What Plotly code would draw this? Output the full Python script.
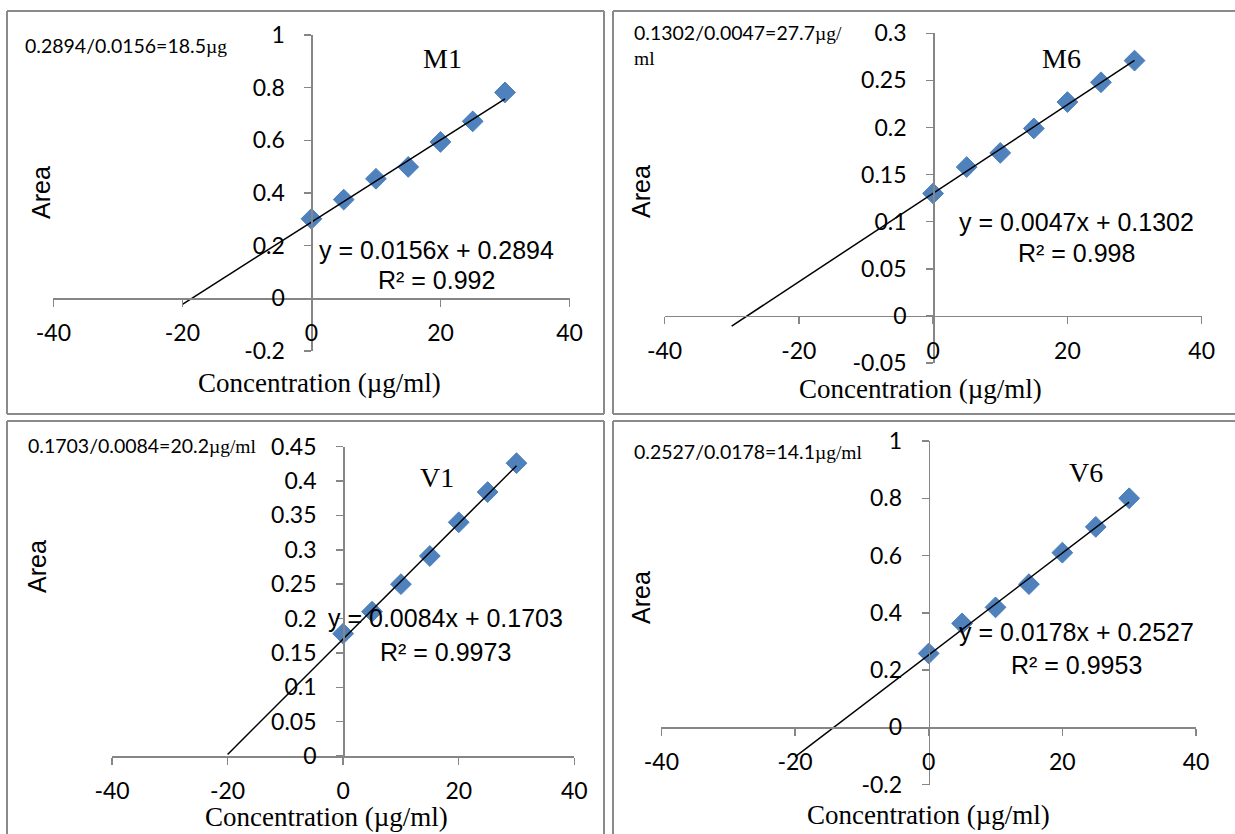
import plotly.graph_objects as go

# ---- data -------------------------------------------------------------
conc = [0, 5, 10, 15, 20, 25, 30]

m1_area = [0.302, 0.375, 0.454, 0.499, 0.594, 0.672, 0.782]
m6_area = [0.130, 0.158, 0.173, 0.199, 0.227, 0.248, 0.271]
v1_area = [0.178, 0.210, 0.250, 0.291, 0.340, 0.384, 0.426]
v6_area = [0.258, 0.363, 0.419, 0.500, 0.610, 0.700, 0.800]

sample_names = ["M1", "M6", "V1", "V6"]
slopes = [0.0156, 0.0047, 0.0084, 0.0178]
intercepts = [0.2894, 0.1302, 0.1703, 0.2527]
r_squared = ["0.992", "0.998", "0.9973", "0.9953"]
trend_start = [-20, -30, -20, -20]
notes = [
    "0.2894/0.0156=18.5",
    "0.1302/0.0047=27.7",
    "0.1703/0.0084=20.2",
    "0.2527/0.0178=14.1",
]
note_units = ["µg", "µg/<br>ml", "µg/ml", "µg/ml"]

x_ticks = [-40, -20, 0, 20, 40]
x_tick_text = ["-40", "-20", "0", "20", "40"]

y_ticks = [
    [-0.2, 0, 0.2, 0.4, 0.6, 0.8, 1],
    [-0.05, 0, 0.05, 0.1, 0.15, 0.2, 0.25, 0.3],
    [0, 0.05, 0.1, 0.15, 0.2, 0.25, 0.3, 0.35, 0.4, 0.45],
    [-0.2, 0, 0.2, 0.4, 0.6, 0.8, 1],
]
y_tick_text = [
    ["-0.2", "0", "0.2", "0.4", "0.6", "0.8", "1"],
    ["-0.05", "0", "0.05", "0.1", "0.15", "0.2", "0.25", "0.3"],
    ["0", "0.05", "0.1", "0.15", "0.2", "0.25", "0.3", "0.35", "0.4", "0.45"],
    ["-0.2", "0", "0.2", "0.4", "0.6", "0.8", "1"],
]
areas = [m1_area, m6_area, v1_area, v6_area]

# ---- layout geometry (pixels) ------------------------------------------
W, H = 1235, 834
# plot boxes: (x_left, x_right, y_top, y_bottom) in pixels
boxes = [
    (53.4, 569.5, 35.0, 351.0),
    (664.5, 1201.7, 33.3, 363.0),
    (112.0, 574.3, 446.7, 756.0),
    (661.4, 1196.0, 441.0, 784.6),
]
# visible frame edges of each chart: (x0, y0, x1, y1) segments in pixels
frame_edges = [
    [(7, 11, 604, 11), (7, 11, 7, 414), (604, 11, 604, 414), (7, 414, 604, 414)],
    [(613, 11, 1235, 11), (613, 11, 613, 414), (613, 414, 1235, 414)],
    [(7, 421, 604, 421), (7, 421, 7, 834), (604, 421, 604, 834)],
    [(613, 421, 1235, 421), (613, 421, 613, 834)],
]
# text placements (pixels)
title_pos = [(442, 58), (1061, 58), (437, 477), (1086, 472)]
eq_pos = [(436, 250, 280), (1076, 222, 253), (445, 618, 652), (1076, 632, 665)]
note_pos = [(23, 46), (632, 33), (26, 445), (632, 452)]
area_pos = [(41, 193), (641, 192), (37, 567), (641, 598)]
xtitle_pos = [(319, 383), (920, 389), (326, 817), (928, 815)]


def px(x):
    return x / W


def py(y):
    return 1 - y / H


AXIS_GREY = "#868686"
MARKER_BLUE = "#4F81BD"
LABEL_FAMILY = "Lato, Carlito, Calibri, sans-serif"
TICK_FONT = dict(family=LABEL_FAMILY, size=23, color="#000000")
SERIF = "Liberation Serif, Times New Roman, serif"
SANS = "Liberation Sans, Arial, sans-serif"

fig = go.Figure()
shapes = []
annotations = []

for i in range(4):
    xl, xr, yt, yb = boxes[i]
    xs = "" if i == 0 else str(i + 1)
    ymin, ymax = y_ticks[i][0], y_ticks[i][-1]
    xmin, xmax = x_ticks[0], x_ticks[-1]

    dom_x = [px(xl), px(xr)]
    dom_y = [py(yb), py(yt)]
    # axes cross at the origin
    x_axis_pos = dom_y[0] + (0 - ymin) / (ymax - ymin) * (dom_y[1] - dom_y[0])
    y_axis_pos = dom_x[0] + (0 - xmin) / (xmax - xmin) * (dom_x[1] - dom_x[0])

    common = dict(ticks="outside", ticklen=7, tickcolor=AXIS_GREY, tickwidth=1.5,
                  showline=True, linecolor=AXIS_GREY, linewidth=1.5,
                  showgrid=False, zeroline=False, tickfont=TICK_FONT,
                  automargin=False, fixedrange=True)
    fig.update_layout({
        f"xaxis{xs}": dict(
            domain=dom_x, range=[xmin, xmax], anchor="free", position=x_axis_pos,
            tickvals=x_ticks, ticktext=x_tick_text, ticklabelstandoff=7, **common,
        ),
        f"yaxis{xs}": dict(
            domain=dom_y, range=[ymin, ymax], anchor="free", position=y_axis_pos,
            tickvals=y_ticks[i], ticktext=y_tick_text[i], ticklabelstandoff=15,
            **common,
        ),
    })

    # measured points
    fig.add_trace(go.Scatter(
        x=conc, y=areas[i], mode="markers", xaxis=f"x{xs}", yaxis=f"y{xs}",
        marker=dict(symbol="diamond", size=16, color=MARKER_BLUE,
                    line=dict(color="#4A7EBB", width=1)),
        showlegend=False, hoverinfo="x+y",
    ))
    # linear trendline with backward forecast
    tx = [trend_start[i], conc[-1]]
    ty = [slopes[i] * v + intercepts[i] for v in tx]
    fig.add_trace(go.Scatter(
        x=tx, y=ty, mode="lines", xaxis=f"x{xs}", yaxis=f"y{xs}",
        line=dict(color="#000000", width=1.5), showlegend=False, hoverinfo="skip",
    ))

    # chart frame
    for (x0, y0, x1, y1) in frame_edges[i]:
        shapes.append(dict(type="line", xref="paper", yref="paper",
                           x0=px(x0), x1=px(x1), y0=py(y0), y1=py(y1),
                           line=dict(color="#8a8a8a", width=2), layer="below"))

    # sample title
    tx_, ty_ = title_pos[i]
    annotations.append(dict(text=sample_names[i], x=px(tx_), y=py(ty_),
                            xref="paper", yref="paper", showarrow=False,
                            xanchor="center", yanchor="middle",
                            font=dict(family=SERIF, size=28, color="#000")))
    # trendline equation
    ex, ey1, ey2 = eq_pos[i]
    annotations.append(dict(text=f"y = {slopes[i]}x + {intercepts[i]}",
                            x=px(ex), y=py(ey1), xref="paper", yref="paper",
                            showarrow=False, xanchor="center", yanchor="middle",
                            font=dict(family=SANS, size=25, color="#000")))
    annotations.append(dict(text=f"R² = {r_squared[i]}",
                            x=px(ex), y=py(ey2), xref="paper", yref="paper",
                            showarrow=False, xanchor="center", yanchor="middle",
                            font=dict(family=SANS, size=25, color="#000")))
    # concentration note
    nx, ny = note_pos[i]
    two_line = "<br>" in note_units[i]
    annotations.append(dict(
        text=f"{notes[i]}<span style=\"font-family:{SERIF}\">{note_units[i]}</span>",
        x=px(nx), y=py(ny - 14 if two_line else ny), xref="paper", yref="paper",
        showarrow=False, xanchor="left", yanchor="top" if two_line else "middle",
        align="left", font=dict(family=LABEL_FAMILY, size=19.5, color="#000")))
    # axis titles
    ax_, ay_ = area_pos[i]
    annotations.append(dict(text="Area", x=px(ax_), y=py(ay_), xref="paper",
                            yref="paper", showarrow=False, textangle=-90,
                            xanchor="center", yanchor="middle",
                            font=dict(family=SANS, size=25, color="#000")))
    cx, cy = xtitle_pos[i]
    annotations.append(dict(text="Concentration (µg/ml)", x=px(cx), y=py(cy),
                            xref="paper", yref="paper", showarrow=False,
                            xanchor="center", yanchor="middle", borderpad=0,
                            font=dict(family=SERIF, size=27, color="#000")))

fig.update_layout(
    width=W, height=H, margin=dict(l=0, r=0, t=0, b=0, autoexpand=False),
    paper_bgcolor="#ffffff", plot_bgcolor="rgba(0,0,0,0)",
    shapes=shapes, annotations=annotations, showlegend=False,
    dragmode=False,
)

fig.write_html("out.html", config={"staticPlot": True})
